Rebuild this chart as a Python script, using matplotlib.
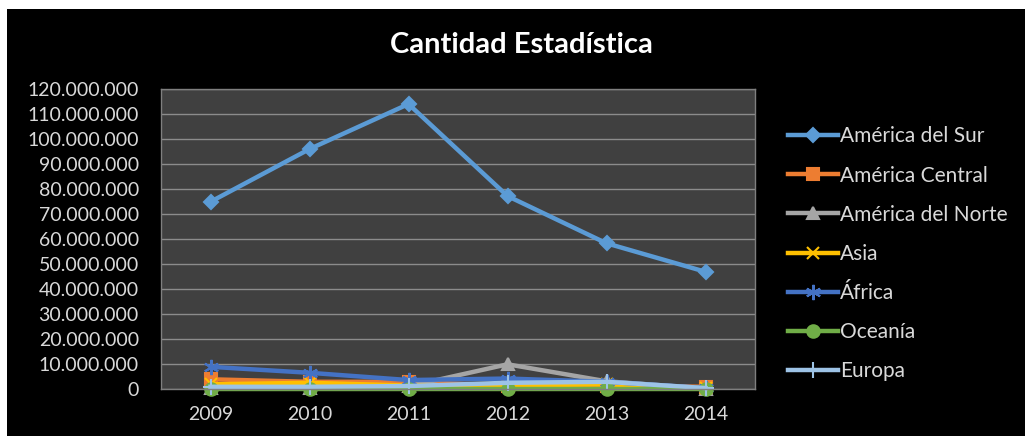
import matplotlib
matplotlib.use("Agg")
import matplotlib.pyplot as plt
from matplotlib.patches import Rectangle
from matplotlib.ticker import FuncFormatter, MultipleLocator

plt.rcParams["font.family"] = ["Lato", "DejaVu Sans"]

years = ["2009", "2010", "2011", "2012", "2013", "2014"]

# values in millions
america_sur = [75.0, 96.1, 114.1, 77.3, 58.4, 47.0]
america_central = [4.0, 3.0, 3.0, 1.5, 1.5, 1.0]
america_norte = [0.5, 0.5, 1.2, 10.0, 3.2, 0.3]
asia = [2.0, 2.6, 1.5, 1.5, 2.0, 0.5]
africa = [9.0, 6.6, 3.7, 4.3, 3.0, 0.5]
oceania = [0.1, 0.1, 0.1, 0.1, 0.1, 0.1]
europa = [1.0, 1.0, 1.3, 2.6, 3.0, 0.5]

series = [
    ("América del Sur", america_sur, "#5b9bd5", "D", 7),
    ("América Central", america_central, "#ed7d31", "s", 8),
    ("América del Norte", america_norte, "#a5a5a5", "^", 9),
    ("Asia", asia, "#ffc000", "x", 9),
    ("África", africa, "#4472c4", (6, 2, 0), 11),
    ("Oceanía", oceania, "#70ad47", "o", 9),
    ("Europa", europa, "#9dc3e6", "+", 11),
]

fig = plt.figure(figsize=(10.25, 4.36), dpi=100, facecolor="white")
fig.patches.append(Rectangle((7 / 1025, 0), 1, 1 - 9 / 436, transform=fig.transFigure,
                             facecolor="black", edgecolor="none", zorder=-10))

ax = fig.add_axes([161 / 1025, 1 - 389.3 / 436, (755 - 161) / 1025, (389.3 - 89.3) / 436])
ax.set_facecolor("#404040")

x = list(range(len(years)))
for name, vals, color, marker, ms in series:
    ax.plot(x, [v * 1e6 for v in vals], color=color, lw=3.2, marker=marker,
            markersize=ms, markeredgewidth=1.5, markeredgecolor=color, label=name,
            solid_joinstyle="round", clip_on=False)

ax.set_xlim(-0.5, len(years) - 0.5)
ax.set_ylim(0, 120e6)
ax.yaxis.set_major_locator(MultipleLocator(10e6))
ax.yaxis.set_major_formatter(FuncFormatter(lambda v, p: f"{v:,.0f}".replace(",", ".")))
ax.set_xticks(x)
ax.set_xticklabels(years)
ax.grid(axis="y", color="#8c8c8c", lw=1)
ax.set_axisbelow(True)
ax.tick_params(length=0, labelsize=14, colors="#d9d9d9")
ax.tick_params(axis="y", pad=16)
ax.tick_params(axis="x", pad=12)
for s in ax.spines.values():
    s.set_color("#7f7f7f")
    s.set_linewidth(1)

fig.text(521 / 1025, 1 - 45 / 436, "Cantidad Estadística", ha="center", va="center",
         color="white", fontsize=21, fontweight="bold")

fig.legend(loc="upper left", bbox_to_anchor=(780 / 1025, 1 - 118 / 436), frameon=False,
           handlelength=2.4, handletextpad=0.1, labelspacing=0.92, fontsize=15,
           labelcolor="#d9d9d9", borderaxespad=0)

fig.savefig("out.png", dpi=100, facecolor=fig.get_facecolor())
